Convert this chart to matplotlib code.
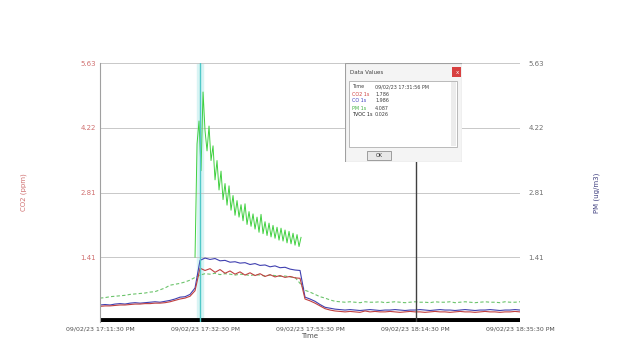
import numpy as np
import matplotlib
matplotlib.use("Agg")
import matplotlib.pyplot as plt
from matplotlib.patches import Rectangle

# time axis in minutes from start
x_ticks = [0, 21, 42, 63, 84]
x_labels = ["09/02/23 17:11:30 PM", "09/02/23 17:32:30 PM", "09/02/23 17:53:30 PM",
            "09/02/23 18:14:30 PM", "09/02/23 18:35:30 PM"]
y_ticks = [1.41, 2.81, 4.22, 5.63]
y_labels = ["1.41", "2.81", "4.22", "5.63"]

t = list(range(0, 85))

blue = [0.37, 0.38, 0.37, 0.39, 0.40, 0.39, 0.41, 0.42, 0.41, 0.42, 0.43, 0.44, 0.43, 0.45, 0.47,
        0.50, 0.54, 0.55, 0.60, 0.74, 1.34, 1.39, 1.36, 1.38, 1.33, 1.34, 1.30, 1.31, 1.28, 1.29,
        1.25, 1.27, 1.23, 1.24, 1.20, 1.22, 1.18, 1.19, 1.15, 1.13, 1.12, 0.54, 0.50, 0.45, 0.38,
        0.32, 0.30, 0.28, 0.27, 0.26, 0.27, 0.26, 0.25, 0.26, 0.27, 0.26, 0.25, 0.26, 0.26, 0.27,
        0.26, 0.25, 0.26, 0.26, 0.27, 0.26, 0.25, 0.26, 0.27, 0.26, 0.26, 0.25, 0.26, 0.27, 0.26,
        0.25, 0.26, 0.26, 0.27, 0.26, 0.25, 0.26, 0.26, 0.27, 0.26]
red = [0.34, 0.35, 0.35, 0.36, 0.37, 0.37, 0.38, 0.39, 0.39, 0.40, 0.40, 0.41, 0.41, 0.42, 0.44,
       0.47, 0.50, 0.52, 0.56, 0.68, 1.17, 1.12, 1.16, 1.08, 1.14, 1.06, 1.11, 1.04, 1.09, 1.02,
       1.07, 1.01, 1.05, 0.99, 1.03, 0.98, 1.01, 0.97, 0.99, 0.96, 0.95, 0.50, 0.46, 0.41, 0.35,
       0.29, 0.26, 0.24, 0.23, 0.22, 0.23, 0.22, 0.21, 0.24, 0.22, 0.23, 0.22, 0.22, 0.23, 0.22,
       0.21, 0.22, 0.23, 0.22, 0.22, 0.21, 0.22, 0.23, 0.22, 0.22, 0.21, 0.22, 0.23, 0.22, 0.22,
       0.21, 0.22, 0.23, 0.22, 0.22, 0.21, 0.22, 0.22, 0.23, 0.22]
green_avg = [0.52, 0.53, 0.55, 0.56, 0.57, 0.58, 0.60, 0.61, 0.62, 0.63, 0.65, 0.66, 0.70, 0.74, 0.80,
             0.82, 0.84, 0.87, 0.91, 0.97, 1.02, 1.05, 1.04, 1.06, 1.03, 1.05, 1.04, 1.02, 1.04, 1.03,
             1.01, 1.03, 1.02, 1.00, 1.02, 1.01, 0.99, 1.00, 0.98, 0.97, 0.84, 0.69, 0.65, 0.60, 0.55,
             0.52, 0.48, 0.45, 0.44, 0.43, 0.44, 0.43, 0.42, 0.44, 0.43, 0.43, 0.44, 0.42, 0.43, 0.44,
             0.43, 0.42, 0.43, 0.44, 0.43, 0.43, 0.42, 0.44, 0.43, 0.43, 0.44, 0.42, 0.43, 0.44, 0.43,
             0.42, 0.43, 0.44, 0.43, 0.43, 0.42, 0.44, 0.43, 0.43, 0.44]
black = [0.05] * 85

t_pm = [round(19.0 + 0.4 * i, 1) for i in range(54)]
green_pm = [1.41, 3.87, 4.37, 3.29, 5.00, 4.16, 3.72, 4.26, 3.51, 3.83,
            3.09, 3.51, 2.87, 3.28, 2.66, 3.01, 2.54, 2.96, 2.43, 2.75,
            2.32, 2.64, 2.28, 2.55, 2.20, 2.57, 2.12, 2.40, 2.08, 2.35,
            2.02, 2.28, 1.95, 2.34, 1.92, 2.18, 1.88, 2.15, 1.85, 2.10,
            1.82, 2.06, 1.78, 2.04, 1.76, 2.00, 1.72, 1.97, 1.70, 1.93,
            1.67, 1.90, 1.64, 1.84]

cursor_a = 20.0
cursor_b = 63.2

fig = plt.figure(figsize=(6.19, 3.43), dpi=100)
ax = fig.add_axes([0.1616, 0.0612, 0.6785, 0.7551])

ax.axvspan(cursor_a - 0.6, cursor_a + 0.6, color="#d8f4f4", zorder=0)
ax.plot(t, green_avg, color="#6cc46c", lw=0.8, ls=(0, (3, 2)))
ax.plot(t, blue, color="#4040b0", lw=0.8)
ax.plot(t, red, color="#c04040", lw=0.8)
ax.plot(t_pm, green_pm, color="#40d040", lw=0.7)
ax.plot(t, black, color="black", lw=3.5, solid_capstyle="butt")
ax.axvline(cursor_a, color="#50c8c8", lw=1.0)
ax.axvline(cursor_b, color="#404040", lw=1.0)

ax.set_xlim(0, 84)
ax.set_ylim(0, 5.63)
ax.set_yticks(y_ticks)
ax.set_yticklabels(y_labels, color="#d07070", fontsize=5)
ax.set_xticks(x_ticks)
ax.set_xticklabels(x_labels, fontsize=4.5, color="#505050")
ax.tick_params(axis="both", length=0, pad=3)
ax.grid(axis="y", color="#c8c8c8", lw=0.7)
for s in ["top", "right", "bottom"]:
    ax.spines[s].set_visible(False)
ax.spines["left"].set_color("#a0a0a0")
ax.set_xlabel("Time", fontsize=5, color="#505050", labelpad=1)
ax.set_ylabel("CO2 (ppm)", fontsize=5, color="#d07070", labelpad=38)

ax2 = ax.twinx()
ax2.set_ylim(0, 5.63)
ax2.set_yticks(y_ticks)
ax2.set_yticklabels(y_labels, color="#707070", fontsize=5)
ax2.tick_params(axis="y", length=0, pad=6)
for s in ax2.spines.values():
    s.set_visible(False)
ax2.set_ylabel("PM (ug/m3)", fontsize=5, color="#404080", labelpad=36)

# data value popup
box = fig.add_axes([345 / 619, 1 - 162 / 343, 117 / 619, 99 / 343])
box.set_xlim(0, 117)
box.set_ylim(99, 0)
box.axis("off")
box.add_patch(Rectangle((0, 0), 117, 99, facecolor="#f4f4f4", edgecolor="#a0a0a0", lw=0.8))
box.add_patch(Rectangle((107, 4), 9, 10, facecolor="#d84040", edgecolor="none"))
box.text(112, 9.5, "x", color="white", fontsize=4, ha="center", va="center")
box.text(5, 9, "Data Values", fontsize=4, va="center", color="#404040")
box.add_patch(Rectangle((4, 18), 108, 66, facecolor="white", edgecolor="#b0b0b0", lw=0.6))
box.add_patch(Rectangle((106, 19), 5, 64, facecolor="#ececec", edgecolor="none"))
rows = [("Time", "09/02/23 17:31:56 PM", "#404040"),
        ("CO2 1s", "1.786", "#d04040"),
        ("CO 1s", "1.986", "#4040c0"),
        ("PM 1s", "4.087", "#40b040"),
        ("TVOC 1s", "0.026", "#202020")]
for i, (name, val, col) in enumerate(rows):
    box.text(7, 24 + i * 7, name, fontsize=3.5, color=col, va="center")
    box.text(30, 24 + i * 7, val, fontsize=3.5, color="#404040", va="center")
box.add_patch(Rectangle((22, 88), 24, 9, facecolor="#e8e8e8", edgecolor="#909090", lw=0.6))
box.text(34, 92.5, "OK", fontsize=3.5, ha="center", va="center", color="#303030")

fig.savefig("out.png", dpi=100)
